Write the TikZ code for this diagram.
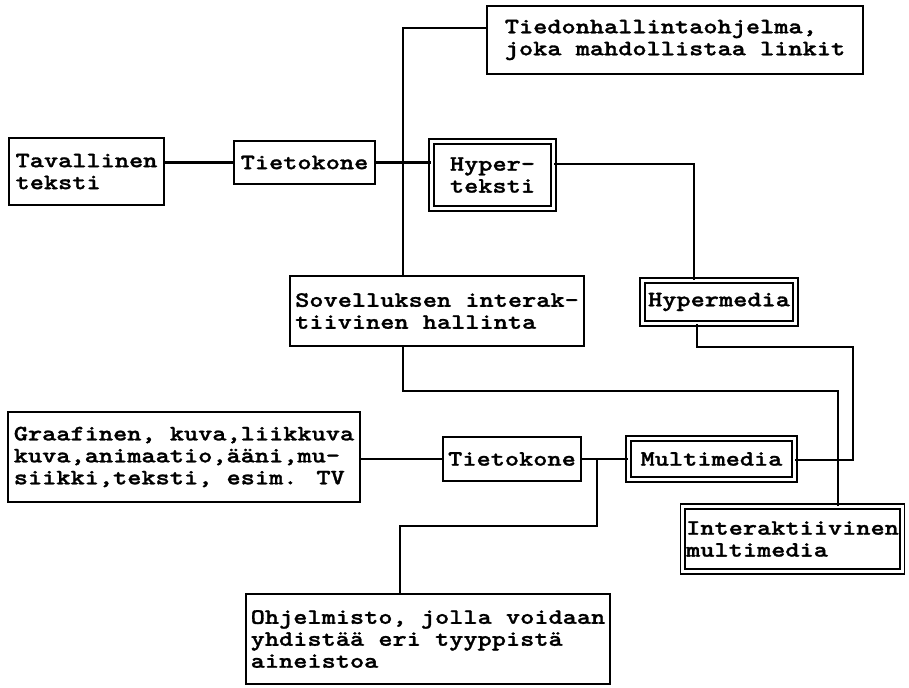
\documentclass[tikz,border=0pt]{standalone}
\usepackage{fontspec}
\newfontfamily\boxfont[FakeStretch=1.23, FakeBold=1.3]{lmmonolt10-bold.otf}
\tikzset{
  box/.style={draw, line width=1.5pt, align=left, inner sep=2pt,
    font=\boxfont\fontsize{12.5}{12.5}\selectfont},
  dbox/.style={box, double, line width=1.1pt, double distance=1.3pt},
  wire/.style={line width=1.5pt}
}
\begin{document}
\begin{tikzpicture}[x=0.02cm, y=-0.02cm]
    \useasboundingbox (0,0) rectangle (909,687);

    % upper row
    \node[box, minimum width=3.10cm, minimum height=1.34cm] (tav) at (86.5,171.5) {Tavallinen\\teksti};
    \node[box, minimum width=2.82cm, minimum height=0.86cm] (tk1) at (304.5,162.5) {Tietokone};
    \node[dbox, minimum width=2.44cm, minimum height=1.34cm] (hyper) at (492.5,175) {Hyper-\\teksti};
    \node[box, minimum width=7.52cm, minimum height=1.36cm] (tiedon) at (675,40) {Tiedonhallintaohjelma,\\joka mahdollistaa linkit};
    \node[box, minimum width=5.88cm, minimum height=1.40cm] (sov) at (437,311) {Sovelluksen interak-\\tiivinen hallinta};
    \node[dbox, minimum width=3.06cm, minimum height=0.86cm] (hmedia) at (719,302) {Hypermedia};

    % lower row
    \node[box, minimum width=7.04cm, minimum height=1.80cm] (gra) at (184,457) {Graafinen, kuva,liikkuva\\kuva,animaatio,ääni,mu-\\siikki,teksti, esim. TV};
    \node[box, minimum width=2.76cm, minimum height=0.88cm] (tk2) at (512,459) {Tietokone};
    \node[dbox, minimum width=3.32cm, minimum height=0.82cm] (mm) at (711.5,459) {Multimedia};
    \node[dbox, minimum width=4.36cm, minimum height=1.30cm] (imm) at (792.5,539) {Interaktiivinen\\multimedia};
    \node[box, minimum width=7.28cm, minimum height=1.80cm] (ohj) at (428,639) {Ohjelmisto, jolla voidaan\\yhdistää eri tyyppistä\\aineistoa};

    % bends
    \coordinate (c1) at (403,28);
    \coordinate (c2) at (694,164);
    \coordinate (c3) at (697,347);
    \coordinate (c4) at (853,460);
    \coordinate (c5) at (403,391);
    \coordinate (c6) at (838,391);
    \coordinate (c7) at (597,459);
    \coordinate (c8) at (597,526);
    \coordinate (c9) at (400,526);

    \draw[wire] (tav.east |- tk1) -- (tk1.west);
    \draw[wire] (tk1.east) -- (tk1.east -| hyper.west);
    \draw[wire] (tiedon.west |- c1) -- (c1) -- (c1 |- sov.north);
    \draw[wire] (hyper.east |- c2) -- (c2) -- (c2 |- hmedia.north);
    \draw[wire] (hmedia.south -| c3) -- (c3) -- (c3 -| c4) -- (c4) -- (c4 -| mm.east);
    \draw[wire] (sov.south -| c5) -- (c5) -- (c6) -- (c6 |- imm.north);

    \draw[wire] (gra.east |- tk2) -- (tk2.west);
    \draw[wire] (tk2.east) -- (mm.west);
    \draw[wire] (c7) -- (c8) -- (c9) -- (c9 |- ohj.north);

\end{tikzpicture}
\end{document}
